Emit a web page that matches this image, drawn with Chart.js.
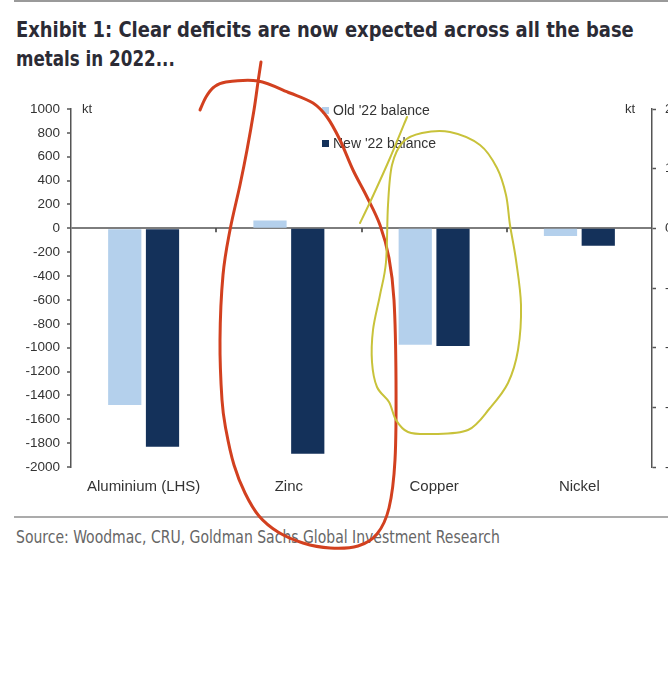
<!DOCTYPE html>
<html>
<head>
<meta charset="utf-8">
<script src="https://cdn.jsdelivr.net/npm/chart.js@4.4.0/dist/chart.umd.min.js"></script>
<style>
    html, body { margin: 0; padding: 0; background: #fff; width: 668px; height: 680px; overflow: hidden; }
    .narrow { font-family: "Liberation Sans Narrow", "DejaVu Sans Condensed", "Liberation Sans", sans-serif; font-stretch: condensed; }
    .fit { display: inline-block; white-space: nowrap; transform-origin: 0 50%; }
    #topRule { position: absolute; left: 14px; right: 0; top: 0; height: 2px; background: #9a9a9a; }
    #title { position: absolute; left: 16px; top: 15px; font-weight: bold; font-size: 22px; line-height: 29px; color: #2b2b35; }
    #title .fit { display: block; width: max-content; }
    #bottomRule { position: absolute; left: 14px; right: 0; top: 516px; height: 2px; background: #ababab; }
    #source { position: absolute; left: 16px; top: 527px; font-size: 17px; color: #666; }
    #chart { position: absolute; left: 0; top: 0; z-index: 2; pointer-events: none; }
</style>
</head>
<body>
<div id="topRule"></div>
<div id="title" class="narrow">
    <span class="fit" data-w="618">Exhibit 1: Clear deficits are now expected across all the base</span>
    <span class="fit" data-w="159">metals in 2022...</span>
</div>
<div id="bottomRule"></div>
<div id="source" class="narrow"><span class="fit" data-w="484">Source: Woodmac, CRU, Goldman Sachs Global Investment Research</span></div>
<canvas id="chart" width="700" height="680"></canvas>

<script>
// chart data (kt)
const categories = ['Aluminium (LHS)', 'Zinc', 'Copper', 'Nickel'];
const oldBalance = [-1480, 13, -195, -13];
const newBalance = [-1830, -378, -197, -29];
const onLeftAxis = [true, false, false, false];
const seriesLabels = ["Old '22 balance", "New '22 balance"];
const leftTicks = [-2000, 1000, 200];   // min, max, step
const rightTicks = [-400, 200, 100];

const LIGHT = '#b4d0ec';
const DARK = '#14315a';
const TEXT = '#333';
const FONT = 'Arial, "Liberation Sans", sans-serif';

// hand-drawn marks on the screenshot (page pixels)
const redScribble = [[200,110],[206,97],[214,87],[226,82],[258,81],[290,93],[313,103],[327,117],[340,140],
    [353,170],[367,197],[380,225],[389,258],[394,300],[396,380],[395,460],[389,508],[377,534],[358,546],
    [330,548],[303,543],[278,532],[259,516],[245,493],[234,465],[226,430],[222,400],[220,340],[223,275],
    [230,230],[240,185],[247,150],[254,110],[258,82],[261,62]];
const yellowTail = [[360,223],[372,198],[390,158],[407,117]];
const yellowLoop = [[388,205],[392,165],[403,142],[422,133],[450,132],[480,145],[497,168],[506,195],
    [510,225],[516,260],[521,305],[518,350],[508,383],[490,408],[468,430],[432,434],[408,432],[396,420],
    [389,402],[377,387],[372,362],[373,330],[380,295],[386,262]];

// squeeze the condensed headline / source lines to the widths of the original
document.querySelectorAll('.fit').forEach(el => {
    el.style.transform = 'scaleX(' + (el.dataset.w / el.offsetWidth) + ')';
});

function onlySide(values, left) {
    return values.map((v, i) => onLeftAxis[i] === left ? v : null);
}

function smoothPath(ctx, pts, closed) {
    const n = pts.length;
    const at = (k) => closed ? pts[(k + n) % n] : pts[Math.min(Math.max(k, 0), n - 1)];
    ctx.beginPath();
    ctx.moveTo(pts[0][0], pts[0][1]);
    const segs = closed ? n : n - 1;
    for (let i = 0; i < segs; i++) {
        const p0 = at(i - 1), p1 = at(i), p2 = at(i + 1), p3 = at(i + 2);
        ctx.bezierCurveTo(p1[0] + (p2[0] - p0[0]) / 6, p1[1] + (p2[1] - p0[1]) / 6,
            p2[0] - (p3[0] - p1[0]) / 6, p2[1] - (p3[1] - p1[1]) / 6, p2[0], p2[1]);
    }
    ctx.stroke();
}

const extrasPlugin = {
    id: 'extras',
    afterDatasetsDraw(chart) {
        const ctx = chart.ctx;
        const x = chart.scales.x, yL = chart.scales.yL;
        const area = chart.chartArea;
        const zeroY = yL.getPixelForValue(0);
        ctx.save();
        // small category separators on the zero line
        ctx.strokeStyle = '#333';
        ctx.lineWidth = 1.5;
        for (let i = 0; i < categories.length - 1; i++) {
            const px = Math.round((x.getPixelForValue(i) + x.getPixelForValue(i + 1)) / 2);
            ctx.beginPath();
            ctx.moveTo(px, zeroY);
            ctx.lineTo(px, zeroY + 4);
            ctx.stroke();
        }
        // unit labels
        ctx.fillStyle = TEXT;
        ctx.font = '13px ' + FONT;
        ctx.textBaseline = 'middle';
        ctx.textAlign = 'left';
        ctx.fillText('kt', area.left + 11, area.top);
        ctx.textAlign = 'right';
        ctx.fillText('kt', area.right - 17, area.top);
        // legend
        ctx.textAlign = 'left';
        ctx.font = '14px ' + FONT;
        [LIGHT, DARK].forEach((c, i) => {
            const ly = area.top + 2 + i * 33;
            ctx.fillStyle = c;
            ctx.fillRect(322, ly - 4, 7, 7);
            ctx.fillStyle = TEXT;
            ctx.fillText(seriesLabels[i], 333, ly);
        });
        ctx.restore();
    },
    afterDraw(chart) {
        const ctx = chart.ctx;
        ctx.save();
        ctx.lineCap = 'round';
        ctx.lineJoin = 'round';
        ctx.strokeStyle = '#d2401f';
        ctx.lineWidth = 3;
        smoothPath(ctx, redScribble, false);
        ctx.strokeStyle = '#c8c23a';
        ctx.lineWidth = 2;
        smoothPath(ctx, yellowTail, false);
        smoothPath(ctx, yellowLoop, true);
        ctx.restore();
    }
};

function barSet(label, values, left, color) {
    return {
        label: label,
        data: onlySide(values, left),
        yAxisID: left ? 'yL' : 'yR',
        backgroundColor: color,
        skipNull: true,
        categoryPercentage: 0.52,
        barPercentage: 0.88
    };
}

const zeroOnly = (ctx) => ctx.tick && ctx.tick.value === 0 ? '#7d7d7d' : 'rgba(0,0,0,0)';
const plainNumber = (v) => String(v);

new Chart(document.getElementById('chart'), {
    type: 'bar',
    data: {
        labels: categories,
        datasets: [
            barSet(seriesLabels[0], oldBalance, true, LIGHT),
            barSet(seriesLabels[1], newBalance, true, DARK),
            barSet(seriesLabels[0], oldBalance, false, LIGHT),
            barSet(seriesLabels[1], newBalance, false, DARK)
        ]
    },
    options: {
        responsive: false,
        animation: false,
        layout: { padding: { top: 109, bottom: 170, left: 0, right: 0 } },
        plugins: {
            legend: { display: false },
            tooltip: { enabled: false }
        },
        scales: {
            x: {
                stacked: false,
                grid: { display: false, drawTicks: false },
                border: { display: false },
                ticks: { color: TEXT, font: { family: FONT, size: 15 }, padding: 11, maxRotation: 0 },
                afterFit: (s) => { s.height = 43; }
            },
            yL: {
                position: 'left',
                stacked: false,
                min: leftTicks[0],
                max: leftTicks[1],
                ticks: { stepSize: leftTicks[2], callback: plainNumber, color: TEXT, font: { family: FONT, size: 13.5 }, padding: 7 },
                grid: { color: zeroOnly, lineWidth: 2, tickLength: 4, tickColor: '#555', tickWidth: 1.5 },
                border: { color: '#555', width: 1.5 },
                afterFit: (s) => { s.width = 71; }
            },
            yR: {
                position: 'right',
                stacked: false,
                min: rightTicks[0],
                max: rightTicks[1],
                ticks: { stepSize: rightTicks[2], callback: plainNumber, color: TEXT, font: { family: FONT, size: 13.5 }, padding: 9 },
                grid: { drawOnChartArea: false, tickLength: 4, tickColor: '#555', tickWidth: 1.5 },
                border: { color: '#555', width: 1.5 },
                afterFit: (s) => { s.width = 48; }
            }
        }
    },
    plugins: [extrasPlugin]
});
</script>
</body>
</html>
